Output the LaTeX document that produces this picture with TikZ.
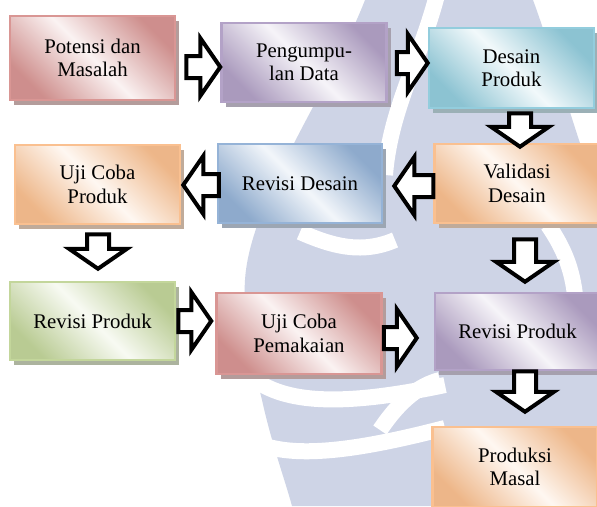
\documentclass[tikz,border=0pt]{standalone}
\usepackage{fontspec}
\setmainfont{Liberation Serif}
\usetikzlibrary{calc,shadows}

\definecolor{redE}{HTML}{D99694}
\definecolor{purE}{HTML}{B3A2C7}
\definecolor{cyaE}{HTML}{93CDDD}
\definecolor{oraE}{HTML}{FAC090}
\definecolor{bluE}{HTML}{95B3D7}
\definecolor{grnE}{HTML}{C3D69B}
\definecolor{wmark}{HTML}{CED4E6}

\tikzset{
    stepbox/.style={rectangle, draw=#1, line width=2.5pt,
        left color=#1!95!black, right color=#1!95!black, middle color=#1!12!white,
        shading angle=135, minimum width=165pt, minimum height=80pt,
        align=center, font=\fontsize{20.8}{23.4}\selectfont,
        drop shadow={shadow xshift=4pt, shadow yshift=-5pt, fill=#1!60!black!60!white, opacity=1}},
    barrow/.style={draw=black, fill=white, line width=4pt, line join=miter},
    wave/.style={draw=white, line width=16pt},
}

% block arrow from tail #1 to tip #2
\newcommand{\blockarrow}[2]{%
    \coordinate (hb) at ($(#2)!20pt!(#1)$);
    \draw[barrow] ($(#1)!11pt!90:(#2)$) -- ($(hb)!11pt!90:(#2)$) -- ($(hb)!29pt!90:(#2)$) -- (#2)
        -- ($(hb)!29pt!-90:(#2)$) -- ($(hb)!11pt!-90:(#2)$) -- ($(#1)!11pt!-90:(#2)$) -- cycle;
}

\begin{document}
\begin{tikzpicture}[x=1pt, y=-1pt]
    \useasboundingbox (0,0) rectangle (597,506);
    \clip (0,0) rectangle (597,506);
    \fill[white] (0,0) rectangle (597,506);

    % Watermark in the background
    \fill[wmark] (365,0) .. controls (330,90) and (250,200) .. (245,280)
        .. controls (242,330) and (255,370) .. (262,400)
        .. controls (272,445) and (285,480) .. (292,506) -- (610,506) -- (610,230)
        .. controls (580,150) and (555,60) .. (533,0) -- cycle;
    \draw[wave] (437,-5) .. controls (420,60) and (390,110) .. (385,175);
    \draw[wave] (255,380) .. controls (290,405) and (350,405) .. (445,385);
    \draw[wave] (262,445) .. controls (300,458) and (360,450) .. (445,428);
    \draw[wave] (300,232) .. controls (330,245) and (360,255) .. (395,240);
    \draw[wave] (548,225) .. controls (565,250) and (572,270) .. (575,295);
    \draw[wave] (380,430) .. controls (400,400) and (420,385) .. (440,380);

    % Draw the steps
    \node[stepbox=redE, minimum height=84pt] (pot) at (92.5,58) {Potensi dan\\Masalah};
    \node[stepbox=purE, minimum height=79pt] (data) at (304,62.5) {Pengumpu-\\lan Data};
    \node[stepbox=cyaE] (desain) at (511.5,68) {Desain\\Produk};
    \node[stepbox=oraE, minimum height=79pt] (valid) at (517,183.5) {Validasi\\Desain};
    \node[stepbox=bluE, minimum width=164pt, minimum height=79pt] (revdes) at (300,183.5) {Revisi Desain};
    \node[stepbox=oraE, minimum height=79pt] (ujiprod) at (97.5,184.5) {Uji Coba\\Produk};
    \node[stepbox=grnE, minimum height=78pt] (revprod) at (92.5,321) {Revisi Produk};
    \node[stepbox=redE, minimum height=81pt] (ujipakai) at (299,333.5) {Uji Coba\\Pemakaian};
    \node[stepbox=purE, minimum height=77pt] (revfinal) at (517.5,331.5) {Revisi Produk};
    \node[stepbox=oraE] (masal) at (515,467) {Produksi\\Masal};

    % Arrow ends
    \coordinate (t1) at ($(pot.east)+(10,9)$);
    \coordinate (h1) at (t1 -| data.west);
    \coordinate (t2) at ($(data.east)+(9,0.5)$);
    \coordinate (h2) at (t2 -| desain.west);
    \coordinate (t3) at ($(desain.south)+(8.5,4)$);
    \coordinate (h3) at ($(t3 |- valid.north)+(0,4)$);
    \coordinate (t4) at ($(valid.west)+(0,2.5)$);
    \coordinate (h4) at ($(t4 -| revdes.east)+(11,0)$);
    \coordinate (t5) at ($(revdes.west)+(2,1.5)$);
    \coordinate (h5) at ($(t5 -| ujiprod.east)+(2,0)$);
    \coordinate (t6) at ($(ujiprod.south)+(0.5,9)$);
    \coordinate (h6) at ($(t6 |- revprod.north)+(0,-12)$);
    \coordinate (t7) at ($(revprod.east)+(2,0)$);
    \coordinate (h7) at ($(t7 -| ujipakai.west)+(-4,0)$);
    \coordinate (t8) at ($(ujipakai.east)+(1,4.5)$);
    \coordinate (h8) at ($(t8 -| revfinal.west)+(-17,0)$);
    \coordinate (t9) at ($(valid.south)+(8,15)$);
    \coordinate (h9) at ($(t9 |- revfinal.north)+(0,-10)$);
    \coordinate (t10) at ($(revfinal.south)+(7.5,0)$);
    \coordinate (h10) at ($(t10 |- masal.north)+(0,-14)$);

    % Draw the arrows
    \foreach \i in {1,...,10} {
        \blockarrow{t\i}{h\i}
    }
\end{tikzpicture}
\end{document}
